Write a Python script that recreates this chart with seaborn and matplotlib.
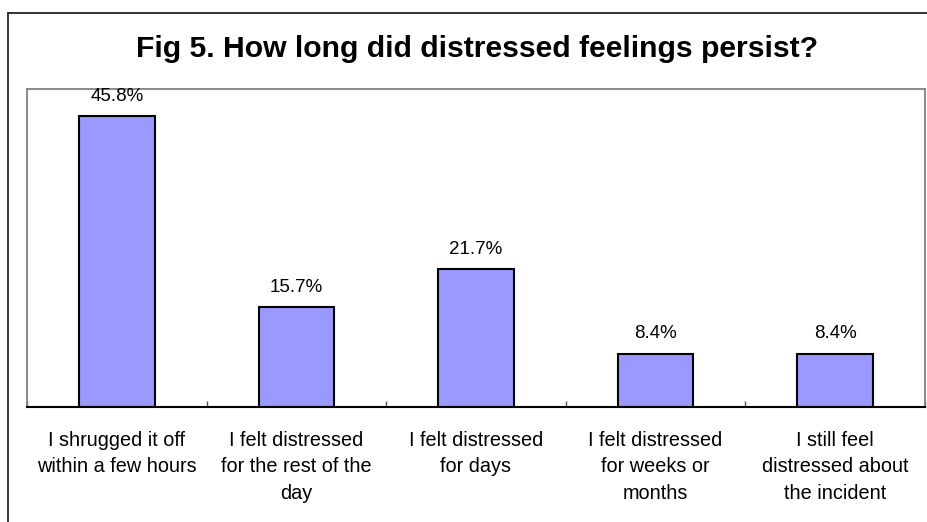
import matplotlib
matplotlib.use("Agg")
import matplotlib.pyplot as plt
from matplotlib.lines import Line2D
import seaborn as sns
import pandas as pd

categories = [
    "I shrugged it off\nwithin a few hours",
    "I felt distressed\nfor the rest of the\nday",
    "I felt distressed\nfor days",
    "I felt distressed\nfor weeks or\nmonths",
    "I still feel\ndistressed about\nthe incident",
]
values = [45.8, 15.7, 21.7, 8.4, 8.4]
value_labels = ["45.8%", "15.7%", "21.7%", "8.4%", "8.4%"]
title = "Fig 5. How long did distressed feelings persist?"

sns.set_theme(style="white")
plt.rcParams["font.family"] = ["Liberation Sans", "DejaVu Sans"]

W, H = 928, 522
fig = plt.figure(figsize=(W / 100, H / 100), dpi=100)
ax = fig.add_axes([27 / W, (H - 407) / H, (925 - 27) / W, (407 - 89) / H])

df = pd.DataFrame({"category": categories, "value": values})
sns.barplot(data=df, x="category", y="value", color="#9999FF", saturation=1,
            width=0.42, edgecolor="black", linewidth=1.5, ax=ax)

ax.set_ylim(0, 50)
ax.set_xlim(-0.5, len(categories) - 0.5)
ax.set_xlabel("")
ax.set_ylabel("")
ax.set_yticks([])

for i, (v, lab) in enumerate(zip(values, value_labels)):
    ax.annotate(lab, (i, v), xytext=(0, 8), textcoords="offset points",
                ha="center", va="bottom", fontsize=13.5, color="black")

# category boundary ticks pointing into the plot
ax.set_xticks([i - 0.5 for i in range(len(categories) + 1)], minor=True)
ax.tick_params(axis="x", which="minor", direction="in", length=4, width=1,
               color="#555555", bottom=True)
ax.tick_params(axis="x", which="major", length=0, pad=17, labelsize=14.3,
               labelcolor="black")
for t in ax.get_xticklabels():
    t.set_linespacing(1.5)
    t.set_multialignment("center")

for side in ["left", "top", "right"]:
    ax.spines[side].set_color("#808080")
    ax.spines[side].set_linewidth(1.3)
ax.spines["bottom"].set_color("black")
ax.spines["bottom"].set_linewidth(1.5)

fig.text(477 / W, 1 - 49 / H, title, ha="center", va="center",
         fontsize=21.7, fontweight="bold", color="black")

# outer frame of the chart
fig.add_artist(Line2D([8 / W, 8 / W], [0, 1 - 13 / H], transform=fig.transFigure,
                      color="#333333", linewidth=1.4))
fig.add_artist(Line2D([8 / W, 1], [1 - 13 / H, 1 - 13 / H], transform=fig.transFigure,
                      color="#333333", linewidth=1.4))

fig.savefig("out.png", dpi=100, facecolor="white")
